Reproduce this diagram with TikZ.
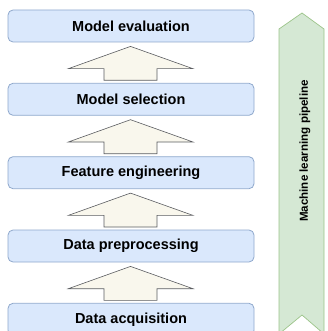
\documentclass[tikz,border=0pt]{standalone}
\usepackage{fontspec}
\setmainfont{Liberation Sans}
\usetikzlibrary{calc}
\definecolor{boxfill}{HTML}{DAE8FC}
\definecolor{boxline}{HTML}{8FA8CC}
\definecolor{arrfill}{HTML}{F9F7ED}
\definecolor{arrline}{HTML}{5A5C60}
\definecolor{grnfill}{HTML}{D5E8D4}
\definecolor{grnline}{HTML}{9CC48A}
\tikzset{
  stagebox/.style={draw=boxline, fill=boxfill, line width=0.8pt, rounded corners=5pt,
    minimum width=246pt, minimum height=32pt, inner sep=0pt,
    font=\fontsize{14.5}{16}\selectfont\bfseries},
  blockarrow/.style={draw=arrline, fill=arrfill, line width=0.6pt, line join=miter},
  chevron/.style={draw=grnline, fill=grnfill, line width=0.7pt},
}
\begin{document}
\begin{tikzpicture}[x=1pt,y=-1pt]
\useasboundingbox (0,0) rectangle (328,331);
\node[stagebox] (eval) at (131,26) {Model evaluation};
\node[stagebox] (sel) at (131,99.3) {Model selection};
\node[stagebox] (feat) at (131,172.7) {Feature engineering};
\node[stagebox] (pre) at (131,246) {Data preprocessing};
\node[stagebox] (acq) at (131,319.3) {Data acquisition};
% block arrows between stages
\foreach \lo/\hi in {sel/eval, feat/sel, pre/feat, acq/pre}{
  \draw[blockarrow]
    ($(\hi.south)+(-0.5,4)$) --
    ($(\hi.south)+(62,26.3)$) --
    ($(\hi.south)+(26,26.3)$) --
    ($(\lo.north)+(26,-2.6)$) --
    ($(\lo.north)+(-27,-2.6)$) --
    ($(\hi.south)+(-27,26.3)$) --
    ($(\hi.south)+(-62.7,26.3)$) -- cycle;
}
% pipeline chevron
\draw[chevron] (279,29) -- (302,13) -- (324,29) -- (324,334) -- (302,315) -- (279,334) -- cycle;
\node[rotate=90, font=\fontsize{11.6}{13}\selectfont\bfseries] (mlp) at (305,151) {Machine learning pipeline};
\end{tikzpicture}
\end{document}
